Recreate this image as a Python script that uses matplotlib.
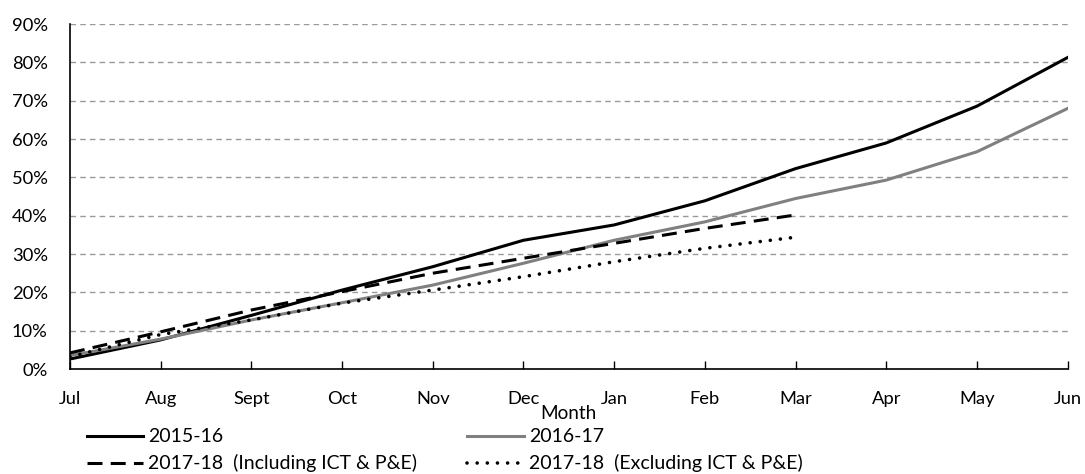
import matplotlib.pyplot as plt
from matplotlib.ticker import PercentFormatter

plt.rcParams["font.family"] = ["Lato", "DejaVu Sans"]

MONTHS = ["Jul", "Aug", "Sept", "Oct", "Nov", "Dec", "Jan", "Feb", "Mar", "Apr", "May", "Jun"]

Y_2015_16 = [2.6, 7.6, 14.0, 20.6, 26.7, 33.6, 37.6, 43.9, 52.3, 59.0, 68.6, 81.3]
Y_2016_17 = [3.5, 7.8, 12.8, 17.3, 21.9, 27.6, 33.6, 38.4, 44.5, 49.3, 56.7, 68.0]
Y_2017_18_INCL = [4.2, 9.7, 15.4, 20.2, 25.0, 28.9, 32.8, 36.7, 40.2]
Y_2017_18_EXCL = [3.2, 9.0, 12.8, 17.2, 20.6, 24.1, 28.0, 31.5, 34.4]

TICK_FS = 13.2
LEG_FS = 14


def main() -> None:
    fig = plt.figure(figsize=(10.85, 4.74), dpi=100)
    ax = fig.add_axes([0.0645, 0.2215, 0.9195, 0.7275])

    x = list(range(len(MONTHS)))
    l1, = ax.plot(x, Y_2015_16, color="black", lw=2.2, label="2015-16")
    l2, = ax.plot(x, Y_2016_17, color="#808080", lw=2.2, label="2016-17")
    l3, = ax.plot(x[:len(Y_2017_18_INCL)], Y_2017_18_INCL, color="black", lw=2.2,
                  linestyle=(0, (4.9, 2.7)), label="2017-18  (Including ICT & P&E)")
    l4, = ax.plot(x[:len(Y_2017_18_EXCL)], Y_2017_18_EXCL, color="black", lw=2.6,
                  linestyle=(0, (0.01, 2.8)), dash_capstyle="round",
                  label="2017-18  (Excluding ICT & P&E)")

    ax.set_xlim(0, len(MONTHS) - 1)
    ax.set_ylim(0, 90)
    ax.set_yticks(range(0, 91, 10))
    ax.yaxis.set_major_formatter(PercentFormatter(decimals=0))
    ax.set_xticks(x)
    ax.set_xticklabels(MONTHS)
    ax.tick_params(axis="x", direction="in", length=6, width=1, labelsize=TICK_FS, pad=15.5)
    ax.tick_params(axis="y", length=0, labelsize=TICK_FS, pad=16)

    ax.grid(axis="y", color="#999999", linestyle=(0, (4, 3)), linewidth=1)
    ax.set_axisbelow(True)
    for side in ("top", "right"):
        ax.spines[side].set_visible(False)
    for side in ("left", "bottom"):
        ax.spines[side].set_linewidth(1.2)

    ax.set_xlabel("Month", fontsize=TICK_FS + 0.5, labelpad=-1)

    ax.legend([l1, l3, l2, l4], [l1.get_label(), l3.get_label(), l2.get_label(), l4.get_label()],
              ncol=2, frameon=False, fontsize=LEG_FS, loc="upper left",
              bbox_to_anchor=(0.003, -0.133), handlelength=2.9, handletextpad=0.25,
              columnspacing=2.6, labelspacing=0.46, borderpad=0.2)

    fig.savefig("out.png", dpi=100)
    plt.close(fig)


if __name__ == "__main__":
    main()
